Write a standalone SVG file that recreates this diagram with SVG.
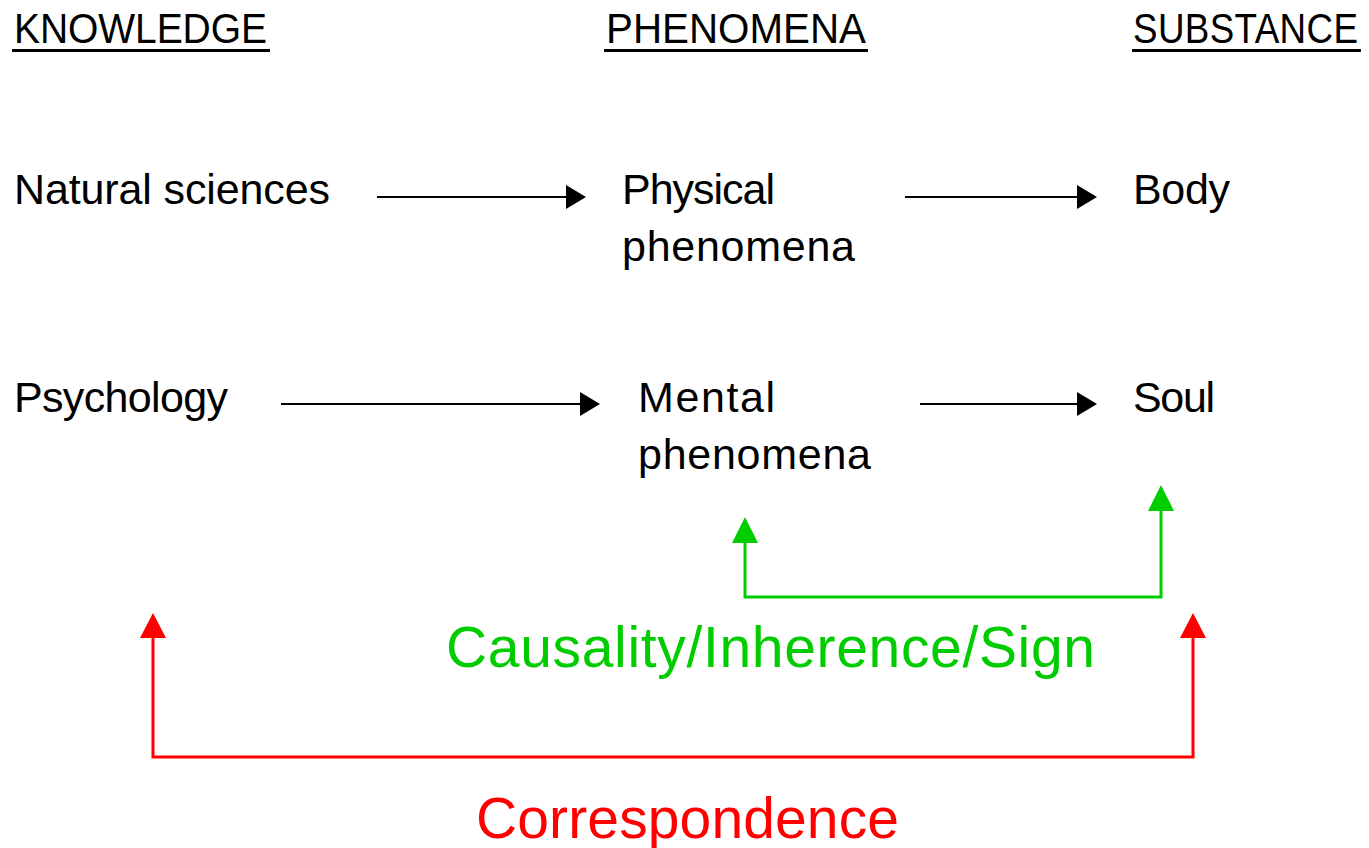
<svg xmlns="http://www.w3.org/2000/svg" width="1369" height="848" viewBox="0 0 1369 848">
<style>
text{font-family:"Liberation Sans",Arial,sans-serif;fill:#000}
.t{font-size:43px}
.h{font-size:42px}
.big{font-size:57px}
.ul{stroke:#000;stroke-width:3}
.blk{stroke:#000;stroke-width:2;fill:none}
.grn{stroke:#00CC00;stroke-width:3;fill:none}
.red{stroke:#FF0000;stroke-width:3;fill:none}
</style>
<defs>
<marker id="ab" markerUnits="userSpaceOnUse" markerWidth="20" markerHeight="24" refX="0" refY="12" orient="auto" overflow="visible">
<path d="M0,0 L20,12 L0,24 Z" fill="#000"/>
</marker>
<marker id="ag" markerUnits="userSpaceOnUse" markerWidth="26" markerHeight="26" refX="0" refY="13" orient="auto-start-reverse" overflow="visible">
<path d="M0,0 L26,13 L0,26 Z" fill="#00CC00"/>
</marker>
<marker id="ar" markerUnits="userSpaceOnUse" markerWidth="25" markerHeight="26" refX="0" refY="13" orient="auto-start-reverse" overflow="visible">
<path d="M0,0 L25,13 L0,26 Z" fill="#FF0000"/>
</marker>
</defs>
<g id="header-knowledge">
<text class="h" transform="translate(14,43) scale(0.929,1)" x="0" y="0" textLength="272.3">KNOWLEDGE</text>
<line class="ul" x1="12" y1="50.5" x2="270" y2="50.5"/>
</g>
<g id="header-phenomena">
<text class="h" transform="translate(606,43) scale(0.96,1)" x="0" y="0" textLength="270.8">PHENOMENA</text>
<line class="ul" x1="604" y1="50.5" x2="868" y2="50.5"/>
</g>
<g id="header-substance">
<text class="h" transform="translate(1133,43) scale(0.876,1)" x="0" y="0" textLength="256.8">SUBSTANCE</text>
<line class="ul" x1="1132" y1="50.5" x2="1361" y2="50.5"/>
</g>
<g id="natural-sciences"><text class="t" x="14" y="204" textLength="316">Natural sciences</text></g>
<g id="physical-phenomena">
<text class="t" x="622" y="204" textLength="153">Physical</text>
<text class="t" x="622" y="261" textLength="233">phenomena</text>
</g>
<g id="body"><text class="t" x="1133" y="204" textLength="97">Body</text></g>
<g id="psychology"><text class="t" x="14" y="412" textLength="214">Psychology</text></g>
<g id="mental-phenomena">
<text class="t" x="638" y="412" textLength="137">Mental</text>
<text class="t" x="638" y="469" textLength="233">phenomena</text>
</g>
<g id="soul"><text class="t" x="1133" y="412" textLength="82">Soul</text></g>
<g id="label-causality"><text class="big" x="446" y="667" textLength="649" style="fill:#00CC00">Causality/Inherence/Sign</text></g>
<g id="label-correspondence"><text class="big" x="476" y="838" textLength="423" style="fill:#FF0000">Correspondence</text></g>
<g id="connectors">
<line class="blk" x1="377" y1="197" x2="566" y2="197" marker-end="url(#ab)"/>
<line class="blk" x1="905" y1="197" x2="1077" y2="197" marker-end="url(#ab)"/>
<line class="blk" x1="281" y1="404" x2="580" y2="404" marker-end="url(#ab)"/>
<line class="blk" x1="920" y1="404" x2="1077" y2="404" marker-end="url(#ab)"/>
<path class="grn" d="M745,543 V597 H1161 V511" marker-start="url(#ag)" marker-end="url(#ag)"/>
<path class="red" d="M153,638 V757 H1193 V638" marker-start="url(#ar)" marker-end="url(#ar)"/>
</g>
</svg>
